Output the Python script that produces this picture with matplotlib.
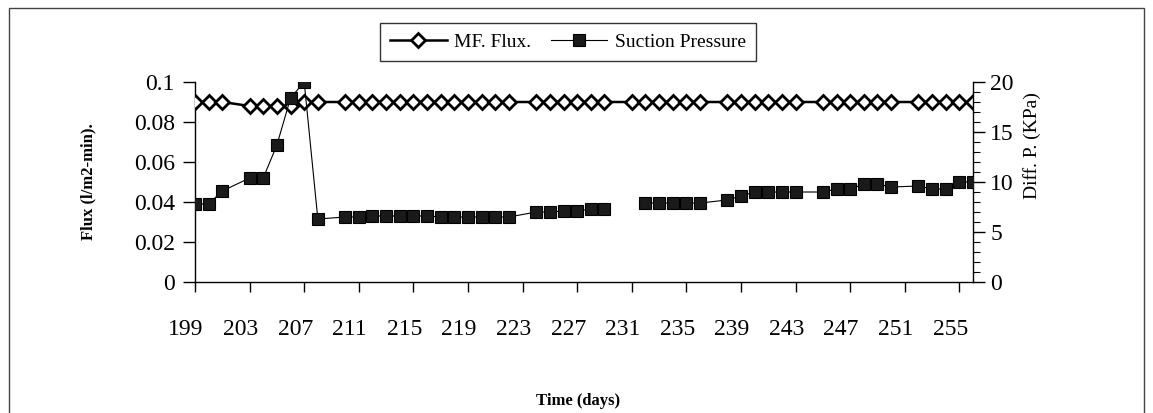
import numpy as np
import matplotlib
matplotlib.use("Agg")
import matplotlib.pyplot as plt
from matplotlib.patches import Rectangle
from matplotlib.ticker import MultipleLocator, FixedLocator
from matplotlib.transforms import ScaledTranslation

plt.rcParams['font.family'] = ['Liberation Serif', 'DejaVu Serif']

days = [199, 200, 201, 203, 204, 205, 206, 207, 208,
        210, 211, 212, 213, 214, 215, 216, 217, 218, 219, 220, 221, 222,
        224, 225, 226, 227, 228, 229,
        231, 232, 233, 234, 235, 236,
        238, 239, 240, 241, 242, 243,
        245, 246, 247, 248, 249, 250,
        252, 253, 254, 255, 256]

mf_flux = [0.090, 0.090, 0.090, 0.088, 0.088, 0.088, 0.088, 0.090, 0.090,
           0.090, 0.090, 0.090, 0.090, 0.090, 0.090, 0.090, 0.090, 0.090, 0.090, 0.090, 0.090, 0.090,
           0.090, 0.090, 0.090, 0.090, 0.090, 0.090,
           0.090, 0.090, 0.090, 0.090, 0.090, 0.090,
           0.090, 0.090, 0.090, 0.090, 0.090, 0.090,
           0.090, 0.090, 0.090, 0.090, 0.090, 0.090,
           0.090, 0.090, 0.090, 0.090, 0.090]

suction = [7.8, 7.8, 9.1, 10.4, 10.4, 13.7, 18.4, 20.0, 6.3,
           6.5, 6.5, 6.6, 6.6, 6.6, 6.6, 6.6, 6.5, 6.5, 6.5, 6.5, 6.5, 6.5,
           7.0, 7.0, 7.1, 7.1, 7.3, 7.3,
           np.nan, 7.9, 7.9, 7.9, 7.9, 7.9,
           8.2, 8.6, 9.0, 9.0, 9.0, 9.0,
           9.0, 9.3, 9.3, 9.8, 9.8, 9.5,
           9.6, 9.3, 9.3, 10.0, 10.0]

x_ticks = list(range(199, 256, 4))
flux_ticks = [0, 0.02, 0.04, 0.06, 0.08, 0.1]
flux_tick_labels = ["0", "0.02", "0.04", "0.06", "0.08", "0.1"]
dp_ticks = [0, 5, 10, 15, 20]

W, H = 1153, 413
fig = plt.figure(figsize=(W / 100, H / 100), dpi=100)
ax = fig.add_axes([195 / W, 1 - 282 / H, (973 - 195) / W, (282 - 82) / H])
ax2 = ax.twinx()

l1, = ax.plot(days, mf_flux, color='black', lw=1.8, marker='D', ms=7.0,
              mfc='white', mec='black', mew=2.0, label='MF. Flux.', zorder=3)
l2, = ax2.plot(days, suction, color='black', lw=0.8, marker='s', ms=8.2,
               mfc='#1a1a1a', mec='black', mew=0.8, label='Suction Pressure', zorder=4)

ax.set_xlim(199, 256)
ax.set_ylim(0, 0.1)
ax2.set_ylim(0, 20)

for a in (ax, ax2):
    a.spines['top'].set_visible(False)
    for s in a.spines.values():
        s.set_linewidth(1.0)
ax.spines['right'].set_visible(False)
ax2.spines['left'].set_visible(False)
ax2.spines['bottom'].set_visible(False)

ax.set_xticks(x_ticks)
ax.set_xticklabels([str(t) for t in x_ticks])
ax.tick_params(axis='x', direction='out', length=7.5, width=1, pad=19, labelsize=17)
shift = ScaledTranslation(-9 / 100, 0, fig.dpi_scale_trans)
for lab in ax.get_xticklabels():
    lab.set_transform(lab.get_transform() + shift)

ax.yaxis.set_major_locator(FixedLocator(flux_ticks))
ax.set_yticklabels(flux_tick_labels)
ax.tick_params(axis='y', direction='out', length=8.5, width=1, pad=6, labelsize=17)

ax2.yaxis.set_major_locator(FixedLocator(dp_ticks))
ax2.yaxis.set_minor_locator(MultipleLocator(1))
ax2.tick_params(axis='y', which='major', direction='out', length=8.5, width=1, pad=4, labelsize=17)
ax2.tick_params(axis='y', which='minor', direction='out', length=5, width=0.8)

fig.text(88 / W, 1 - 182 / H, "Flux (l/m2-min).", rotation=90, ha='center', va='center',
         fontsize=12, fontweight='bold')
fig.text(1032 / W, 1 - 146 / H, "Diff. P. (KPa)", rotation=90, ha='center', va='center',
         fontsize=14)
fig.text(578 / W, 1 - 401 / H, "Time (days)", ha='center', va='center',
         fontsize=12, fontweight='bold')

leg = fig.legend(handles=[l1, l2], loc='center', bbox_to_anchor=(568 / W, 1 - 42 / H),
                 ncol=2, frameon=True, fancybox=False, edgecolor='black', fontsize=14,
                 handlelength=2.9, columnspacing=1.0, handletextpad=0.4, borderpad=0.5)
leg.get_frame().set_linewidth(1.0)

fig.patches.append(Rectangle((9 / W, -0.05), (1144 - 9) / W, 1.05 - 8 / H,
                             transform=fig.transFigure, fill=False, edgecolor='#444444',
                             lw=1.0))

fig.savefig("out.png", dpi=100)
